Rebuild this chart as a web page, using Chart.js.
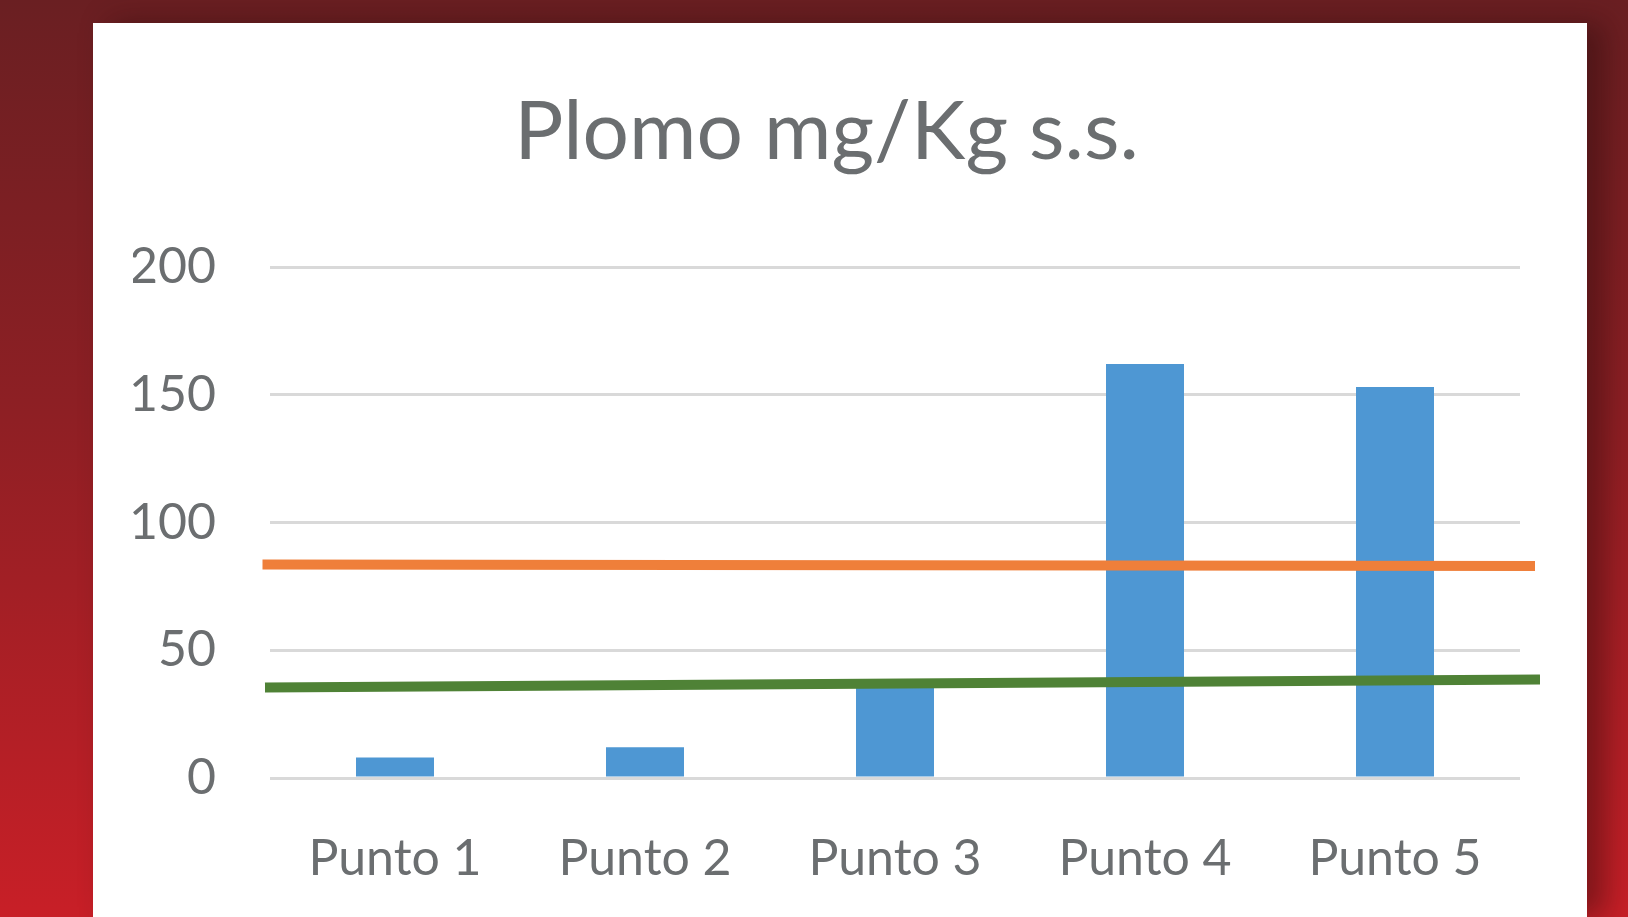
<!DOCTYPE html>
<html lang="es">
<head>
<meta charset="utf-8">
<title>Plomo mg/Kg s.s.</title>
<script src="https://cdn.jsdelivr.net/npm/chart.js@4.4.1/dist/chart.umd.min.js"></script>
<style>
  html, body {
    margin: 0;
    width: 1628px;
    height: 917px;
    overflow: hidden;
    background: linear-gradient(to bottom, #6a1f22 0%, #8e1f24 45%, #c81f27 100%);
  }
  #panel {
    position: absolute;
    left: 93px;
    top: 23px;
    width: 1494px;
    height: 894px;
    background: #fff;
    box-shadow: 18px 0 28px rgba(40, 10, 10, 0.45);
  }
  #chart {
    position: absolute;
    left: 0;
    top: 0;
  }
</style>
</head>
<body>
<div id="panel">
  <canvas id="chart" width="1472" height="894"></canvas>
</div>
<script>
// ── Datos ───────────────────────────────────────────────
const categories = ['Punto 1', 'Punto 2', 'Punto 3', 'Punto 4', 'Punto 5'];
const plomo = [8, 12, 36, 162, 153];

// líneas de referencia (x en unidades de categoría)
const orangeX = [-0.53, 4.56];
const orangeY = [83.6, 83.0];
const greenX = [-0.52, 4.58];
const greenY = [35.4, 38.6];

const yMin = 0, yMax = 200, yStep = 50;

// ── Colores ─────────────────────────────────────────────
const TEXT = '#6b6e70';
const BAR = '#4e97d3';
const ORANGE = '#ef7f3a';
const GREEN = '#4f8236';
const GRID = '#d9d9d9';

const toPoints = (xs, ys) => xs.map((x, i) => ({ x, y: ys[i] }));

const ctx = document.getElementById('chart').getContext('2d');
new Chart(ctx, {
  data: {
    labels: categories,
    datasets: [
      {
        type: 'bar',
        data: plomo,
        backgroundColor: BAR,
        grouped: false,
        barPercentage: 0.312,
        categoryPercentage: 1,
        order: 2,
      },
      {
        type: 'line',
        xAxisID: 'xl',
        data: toPoints(orangeX, orangeY),
        borderColor: ORANGE,
        borderWidth: 10,
        borderCapStyle: 'butt',
        pointRadius: 0,
        clip: false,
        order: 1,
      },
      {
        type: 'line',
        xAxisID: 'xl',
        data: toPoints(greenX, greenY),
        borderColor: GREEN,
        borderWidth: 10,
        borderCapStyle: 'butt',
        pointRadius: 0,
        clip: false,
        order: 1,
      },
    ],
  },
  options: {
    responsive: false,
    devicePixelRatio: 1,
    animation: false,
    layout: { padding: { left: 40, right: 45, top: 0, bottom: 0 } },
    plugins: {
      legend: { display: false },
      tooltip: { enabled: false },
      title: {
        display: true,
        text: 'Plomo mg/Kg s.s.',
        color: TEXT,
        font: { family: 'Lato', size: 82, weight: 'normal' },
        padding: { top: 60, bottom: 85.6 },
      },
    },
    scales: {
      x: {
        grid: { display: false },
        border: { display: false },
        ticks: {
          color: TEXT,
          font: { family: 'Lato', size: 50 },
          padding: 43,
          maxRotation: 0,
        },
        afterFit: (scale) => { scale.height = 139; },
      },
      xl: {
        type: 'linear',
        display: false,
        min: -0.5,
        max: 4.5,
      },
      y: {
        min: yMin,
        max: yMax,
        ticks: {
          stepSize: yStep,
          color: TEXT,
          font: { family: 'Lato', size: 50 },
          padding: 54,
        },
        grid: { color: GRID, lineWidth: 3, drawTicks: false },
        border: { display: false },
        afterFit: (scale) => { scale.width = 137; },
      },
    },
  },
});
</script>
</body>
</html>
